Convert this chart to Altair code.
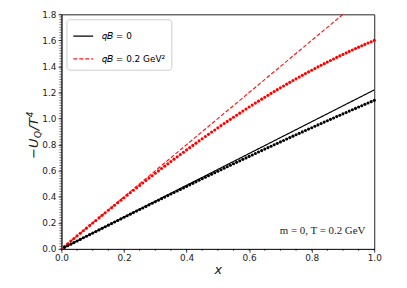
import altair as alt
import pandas as pd

# ---------------- data ----------------
x_dots = [0.01, 0.02, 0.03, 0.04, 0.05, 0.06, 0.07, 0.08, 0.09, 0.10,
          0.11, 0.12, 0.13, 0.14, 0.15, 0.16, 0.17, 0.18, 0.19, 0.20,
          0.21, 0.22, 0.23, 0.24, 0.25, 0.26, 0.27, 0.28, 0.29, 0.30,
          0.31, 0.32, 0.33, 0.34, 0.35, 0.36, 0.37, 0.38, 0.39, 0.40,
          0.41, 0.42, 0.43, 0.44, 0.45, 0.46, 0.47, 0.48, 0.49, 0.50,
          0.51, 0.52, 0.53, 0.54, 0.55, 0.56, 0.57, 0.58, 0.59, 0.60,
          0.61, 0.62, 0.63, 0.64, 0.65, 0.66, 0.67, 0.68, 0.69, 0.70,
          0.71, 0.72, 0.73, 0.74, 0.75, 0.76, 0.77, 0.78, 0.79, 0.80,
          0.81, 0.82, 0.83, 0.84, 0.85, 0.86, 0.87, 0.88, 0.89, 0.90,
          0.91, 0.92, 0.93, 0.94, 0.95, 0.96, 0.97, 0.98, 0.99, 1.00]

red_dots = [0.0200, 0.0400, 0.0599, 0.0799, 0.0998, 0.1196, 0.1395, 0.1593, 0.1790, 0.1987,
            0.2184, 0.2380, 0.2576, 0.2771, 0.2965, 0.3159, 0.3352, 0.3545, 0.3737, 0.3928,
            0.4119, 0.4309, 0.4499, 0.4687, 0.4875, 0.5062, 0.5248, 0.5434, 0.5619, 0.5803,
            0.5986, 0.6168, 0.6350, 0.6530, 0.6710, 0.6889, 0.7067, 0.7244, 0.7420, 0.7595,
            0.7769, 0.7943, 0.8115, 0.8286, 0.8457, 0.8626, 0.8794, 0.8962, 0.9128, 0.9293,
            0.9457, 0.9620, 0.9782, 0.9943, 1.0103, 1.0261, 1.0419, 1.0575, 1.0730, 1.0885,
            1.1038, 1.1189, 1.1340, 1.1489, 1.1638, 1.1784, 1.1930, 1.2075, 1.2218, 1.2360,
            1.2501, 1.2641, 1.2779, 1.2916, 1.3052, 1.3186, 1.3319, 1.3451, 1.3581, 1.3710,
            1.3838, 1.3965, 1.4090, 1.4213, 1.4335, 1.4456, 1.4576, 1.4694, 1.4811, 1.4926,
            1.5040, 1.5153, 1.5264, 1.5373, 1.5481, 1.5588, 1.5693, 1.5797, 1.5899, 1.6000]

black_dots = [0.0122, 0.0244, 0.0366, 0.0488, 0.0610, 0.0731, 0.0853, 0.0975, 0.1096, 0.1217,
              0.1339, 0.1460, 0.1581, 0.1702, 0.1823, 0.1944, 0.2064, 0.2185, 0.2305, 0.2426,
              0.2546, 0.2666, 0.2786, 0.2905, 0.3025, 0.3144, 0.3264, 0.3383, 0.3502, 0.3621,
              0.3739, 0.3858, 0.3976, 0.4094, 0.4212, 0.4330, 0.4447, 0.4565, 0.4682, 0.4799,
              0.4916, 0.5033, 0.5149, 0.5265, 0.5381, 0.5497, 0.5613, 0.5728, 0.5844, 0.5959,
              0.6073, 0.6188, 0.6302, 0.6417, 0.6531, 0.6644, 0.6758, 0.6871, 0.6984, 0.7097,
              0.7210, 0.7322, 0.7434, 0.7546, 0.7658, 0.7769, 0.7880, 0.7991, 0.8102, 0.8212,
              0.8322, 0.8432, 0.8542, 0.8651, 0.8760, 0.8869, 0.8978, 0.9086, 0.9194, 0.9302,
              0.9410, 0.9517, 0.9624, 0.9731, 0.9837, 0.9943, 1.0049, 1.0155, 1.0260, 1.0365,
              1.0470, 1.0575, 1.0679, 1.0783, 1.0886, 1.0990, 1.1093, 1.1195, 1.1298, 1.1400]

series_names = ["𝑞𝐵 = 0", "𝑞𝐵 = 0.2 GeV²"]
line_x = [0.0, 1.0]
line_black = [0.0, 1.22]
line_red = [0.0, 2.0]

x_ticks = [0.0, 0.2, 0.4, 0.6, 0.8, 1.0]
y_ticks = [0.0, 0.2, 0.4, 0.6, 0.8, 1.0, 1.2, 1.4, 1.6, 1.8]
x_minor = [round(i * 0.05, 2) for i in range(21)]
y_minor = [round(i * 0.02, 2) for i in range(91)]

W, H = 316, 237

# ---------------- tables ----------------
lines_df = pd.DataFrame({
    "x": line_x + line_x,
    "y": line_black + line_red,
    "s": [series_names[0]] * 2 + [series_names[1]] * 2,
})
red_df = pd.DataFrame({"x": x_dots, "y": red_dots})
black_df = pd.DataFrame({"x": x_dots, "y": black_dots})
xminor_df = pd.DataFrame({"x": x_minor})
yminor_df = pd.DataFrame({"y": y_minor})

xs = alt.Scale(domain=[0, 1], nice=False, zero=False)
ys = alt.Scale(domain=[0, 1.8], nice=False, zero=False)

xaxis = alt.Axis(values=x_ticks, format=".1f", title="x", titleFontStyle="italic",
                 titleFontWeight="normal", titleFontSize=13, titlePadding=1,
                 titleFont="DejaVu Sans", labelFont="DejaVu Sans", labelFontSize=9,
                 labelPadding=1, tickSize=3.5, labelFlush=False, labelOverlap=False)
yaxis = alt.Axis(values=y_ticks, format=".1f", title=None, labelFont="DejaVu Sans",
                 labelFontSize=9, labelPadding=2, tickSize=3.5, labelOverlap=False,
                 labelFlush=False)

X = alt.X("x:Q", scale=xs, axis=xaxis)
Y = alt.Y("y:Q", scale=ys, axis=yaxis)

lines = alt.Chart(lines_df).mark_line(clip=True, strokeWidth=1.2).encode(
    x=X, y=Y,
    color=alt.Color("s:N", scale=alt.Scale(domain=series_names, range=["black", "#ff1a1a"]),
                    legend=alt.Legend(title=None, orient="top-left", offset=5,
                                      symbolType="stroke", symbolSize=400,
                                      symbolStrokeWidth=1.3, labelFont="DejaVu Sans",
                                      labelFontSize=9, labelOffset=8, rowPadding=7,
                                      padding=6, strokeColor="#cccccc", fillColor="white",
                                      cornerRadius=3)),
    strokeDash=alt.StrokeDash("s:N", scale=alt.Scale(domain=series_names,
                                                     range=[[1, 0], [4, 2]]), legend=None),
)

red_pts = alt.Chart(red_df).mark_circle(size=10, opacity=1, color="#ff0000").encode(x=X, y=Y)
black_pts = alt.Chart(black_df).mark_circle(size=10, opacity=1, color="black").encode(x=X, y=Y)

xminor = alt.Chart(xminor_df).mark_rule(color="black", strokeWidth=0.6).encode(
    x=X, y=alt.value(H), y2=alt.value(H + 2))
yminor = alt.Chart(yminor_df).mark_rule(color="black", strokeWidth=0.6).encode(
    y=Y, x=alt.value(-2), x2=alt.value(0))

ann_df = pd.DataFrame({"t": ["m = 0, T = 0.2 GeV"]})
ann = alt.Chart(ann_df).mark_text(font="Liberation Serif", fontSize=11, align="right",
                                  baseline="middle", color="#222").encode(
    text="t:N", x=alt.value(W - 9), y=alt.value(H - 18))


def ytitle_part(txt, size, xv, yv):
    return alt.Chart(pd.DataFrame({"t": [txt]})).mark_text(
        font="DejaVu Sans", fontStyle="italic", fontSize=size, angle=270, align="left",
        baseline="alphabetic", color="#222").encode(text="t:N", x=alt.value(xv), y=alt.value(yv))


yt1 = ytitle_part("−U", 13, -24, 146)
yt2 = ytitle_part("Q", 9, -20.5, 125)
yt3 = ytitle_part("/T", 13, -24, 117)
yt4 = ytitle_part("4", 9, -29, 104)

chart = alt.layer(lines, red_pts, black_pts, xminor, yminor, ann,
                  yt1, yt2, yt3, yt4).properties(
    width=W, height=H,
    autosize=alt.AutoSizeParams(type="none"),
    padding={"left": 54, "top": 5, "right": 25, "bottom": 30},
).configure_view(stroke="#222", strokeWidth=1).configure_axis(
    domainColor="#222", tickColor="#222", labelColor="#222", titleColor="#222",
    grid=False, domainWidth=1, tickWidth=0.8)

chart.save("out.html", embed_options={"renderer": "svg", "actions": False})
